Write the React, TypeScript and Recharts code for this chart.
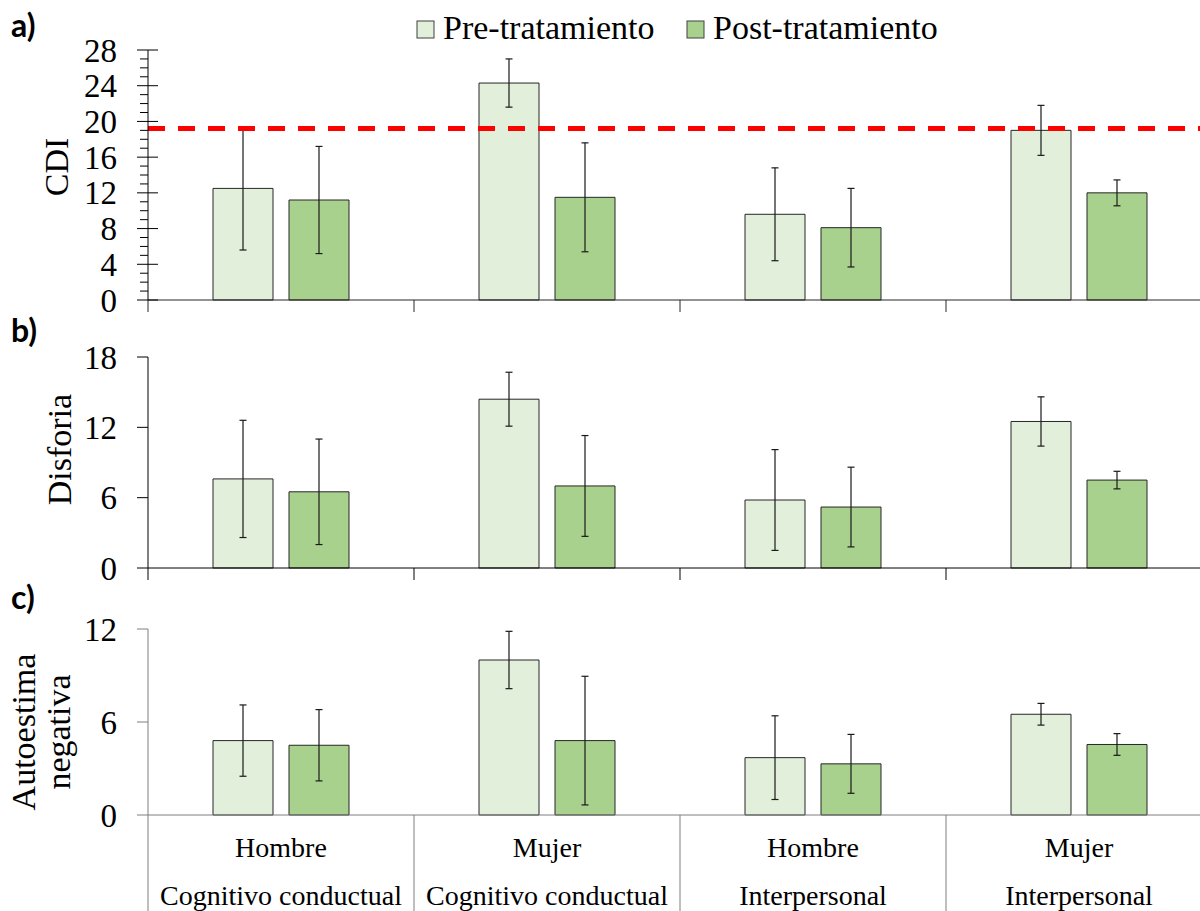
import React from "react";
import { BarChart, Bar, XAxis, YAxis, ErrorBar, ReferenceLine } from "recharts";

// grupos (sexo + terapia)
const sexo = ["Hombre", "Mujer", "Hombre", "Mujer"];
const terapia = ["Cognitivo conductual", "Cognitivo conductual", "Interpersonal", "Interpersonal"];

// a) CDI
const cdiPre = [12.5, 24.3, 9.6, 19.0];
const cdiPreDe = [6.9, 2.7, 5.2, 2.8];
const cdiPost = [11.2, 11.5, 8.1, 12.0];
const cdiPostDe = [6.0, 6.1, 4.4, 1.45];
const cdiCorte = 19.2;

// b) Disforia
const disPre = [7.6, 14.4, 5.8, 12.5];
const disPreDe = [5.0, 2.3, 4.3, 2.1];
const disPost = [6.5, 7.0, 5.2, 7.5];
const disPostDe = [4.5, 4.3, 3.4, 0.75];

// c) Autoestima negativa
const autPre = [4.8, 10.0, 3.7, 6.5];
const autPreDe = [2.3, 1.85, 2.7, 0.7];
const autPost = [4.5, 4.8, 3.3, 4.55];
const autPostDe = [2.3, 4.15, 1.9, 0.7];

const cdiTicks = Array.from({ length: 29 }, (_, i) => i);
const disTicks = [0, 6, 12, 18];
const autTicks = [0, 6, 12];

const serif = '"Liberation Serif", "Times New Roman", serif';
const PRE = "#E2EFDA";
const POST = "#A9D18E";

const buildRows = (pre: number[], preDe: number[], post: number[], postDe: number[]) =>
  sexo.map((s, i) => ({
    grupo: `${s} - ${terapia[i]}`,
    pre: pre[i],
    preDe: preDe[i],
    post: post[i],
    postDe: postDe[i],
  }));

// eje y del CDI: marcas menores cada 1, mayores (con texto) cada 4
const CdiTick = ({ x, y, payload }: any) => {
  const v = payload.value;
  const major = v % 4 === 0;
  return (
    <g>
      <line x1={x - (major ? 11 : 8)} x2={x + (major ? 10 : 0)} y1={y} y2={y} stroke="#000" />
      {major && (
        <text x={x - 31} y={y} dy="0.35em" textAnchor="end" fontSize={33} fontFamily={serif} fill="#000">
          {v}
        </text>
      )}
    </g>
  );
};

// eje x: separador al inicio de cada grupo y, en el último panel, los nombres
const GrupoTick = ({ x, y, payload, index, color, withText }: any) => {
  const edge = x - (payload.offset || 0);
  return (
    <g>
      <line x1={edge} x2={edge} y1={y} y2={y + (withText ? 96 : 12)} stroke={color} />
      {withText && (
        <g fontFamily={serif} fontSize={28} fill="#000" textAnchor="middle">
          <text x={x} y={y + 42}>{sexo[index]}</text>
          <text x={x} y={y + 90}>{terapia[index]}</text>
        </g>
      )}
    </g>
  );
};

const yTitle = (lines: { text: string; x: number }[], dy: number) => (props: any) => {
  const vb = props.viewBox;
  const cy = vb.y + vb.height / 2 + dy;
  return (
    <g>
      {lines.map((l) => (
        <text
          key={l.text}
          x={l.x}
          y={cy}
          transform={`rotate(-90 ${l.x} ${cy})`}
          textAnchor="middle"
          fontSize={34}
          fontFamily={serif}
          fill="#000"
        >
          {l.text}
        </text>
      ))}
    </g>
  );
};

type PanelProps = {
  top: number;
  height: number;
  marginTop: number;
  xHeight: number;
  rows: any[];
  domain: [number, number];
  yTicks: number[];
  cdi?: boolean;
  title: { text: string; x: number }[];
  titleDy: number;
  color: string;
  withText?: boolean;
  corte?: number;
};

const Panel = (p: PanelProps) => (
  <div style={{ position: "absolute", left: 0, top: p.top }}>
    <BarChart
      width={1240}
      height={p.height}
      data={p.rows}
      margin={{ top: p.marginTop, right: 28, bottom: 0, left: 0 }}
      barSize={60}
      barGap={16}
    >
      <XAxis
        dataKey="grupo"
        height={p.xHeight}
        interval={0}
        tickLine={false}
        tickSize={0}
        tickMargin={0}
        axisLine={{ stroke: p.color }}
        tick={(t: any) => <GrupoTick {...t} color={p.color} withText={p.withText} />}
      />
      {p.cdi ? (
        <YAxis
          width={148}
          domain={p.domain}
          ticks={p.yTicks}
          interval={0}
          tickLine={false}
          tickSize={0}
          tickMargin={0}
          axisLine={{ stroke: "#000" }}
          tick={<CdiTick />}
          label={yTitle(p.title, p.titleDy)}
        />
      ) : (
        <YAxis
          width={148}
          domain={p.domain}
          ticks={p.yTicks}
          interval={0}
          tickSize={11}
          tickMargin={20}
          tickLine={{ stroke: p.color }}
          axisLine={{ stroke: p.color }}
          tick={{ fill: "#000", fontSize: 33, fontFamily: serif }}
          label={yTitle(p.title, p.titleDy)}
        />
      )}
      <Bar dataKey="pre" fill={PRE} stroke="#262626" strokeWidth={1} isAnimationActive={false}>
        <ErrorBar dataKey="preDe" width={3.5} stroke="#1a1a1a" strokeWidth={1.2} />
      </Bar>
      <Bar dataKey="post" fill={POST} stroke="#262626" strokeWidth={1} isAnimationActive={false}>
        <ErrorBar dataKey="postDe" width={3.5} stroke="#1a1a1a" strokeWidth={1.2} />
      </Bar>
      {p.corte !== undefined && (
        <ReferenceLine y={p.corte} stroke="#FF0000" strokeWidth={5} strokeDasharray="17 13" />
      )}
    </BarChart>
  </div>
);

const LegendItem = ({ x, fill, text }: { x: number; fill: string; text: string }) => (
  <g>
    <rect x={x} y={21} width={17} height={17} fill={fill} stroke="#404040" strokeWidth={1} />
    <text x={x + 26} y={39} fontSize={34} fontFamily={serif} fill="#000">
      {text}
    </text>
  </g>
);

export default function App() {
  return (
    <div
      style={{
        position: "absolute",
        left: 0,
        top: 0,
        width: 1200,
        height: 911,
        overflow: "hidden",
        background: "#fff",
      }}
    >
      <Panel
        top={0}
        height={330}
        marginTop={50}
        xHeight={30}
        rows={buildRows(cdiPre, cdiPreDe, cdiPost, cdiPostDe)}
        domain={[0, 28]}
        yTicks={cdiTicks}
        cdi
        title={[{ text: "CDI", x: 68 }]}
        titleDy={-8}
        color="#262626"
        corte={cdiCorte}
      />
      <Panel
        top={320}
        height={278}
        marginTop={37}
        xHeight={30}
        rows={buildRows(disPre, disPreDe, disPost, disPostDe)}
        domain={[0, 18]}
        yTicks={disTicks}
        title={[{ text: "Disforia", x: 71 }]}
        titleDy={-13}
        color="#000"
      />
      <Panel
        top={590}
        height={321}
        marginTop={39}
        xHeight={96}
        rows={buildRows(autPre, autPreDe, autPost, autPostDe)}
        domain={[0, 12]}
        yTicks={autTicks}
        title={[
          { text: "Autoestima", x: 35 },
          { text: "negativa", x: 70 },
        ]}
        titleDy={10}
        color="#7f7f7f"
        withText
      />
      <svg
        width={1200}
        height={911}
        style={{ position: "absolute", left: 0, top: 0, pointerEvents: "none" }}
      >
        <LegendItem x={417} fill={PRE} text="Pre-tratamiento" />
        <LegendItem x={687} fill={POST} text="Post-tratamiento" />
        <g fontFamily="Lato, sans-serif" fontWeight="bold" fontSize={32} fill="#000">
          <text x={11} y={37}>a)</text>
          <text x={11} y={342}>b)</text>
          <text x={11} y={609}>c)</text>
        </g>
      </svg>
    </div>
  );
}
